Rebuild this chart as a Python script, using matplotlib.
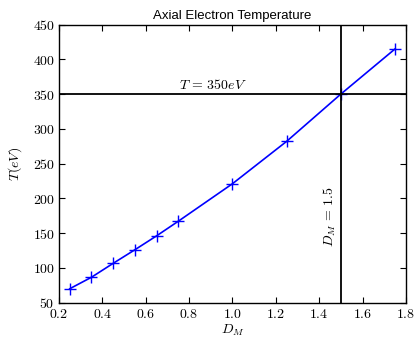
import matplotlib
matplotlib.use('Agg')
import matplotlib.pyplot as plt
from matplotlib.ticker import FuncFormatter

plt.rcParams['mathtext.fontset'] = 'cm'

# data
d_m = [0.25, 0.35, 0.45, 0.55, 0.65, 0.75, 1.0, 1.25, 1.5, 1.75]
temp = [70, 86.5, 106.5, 126, 146, 167, 221, 282, 350, 415]
t_ref = 350
d_ref = 1.5
x_ticks = [0.2, 0.4, 0.6, 0.8, 1.0, 1.2, 1.4, 1.6, 1.8]
y_ticks = [50, 100, 150, 200, 250, 300, 350, 400, 450]

fig = plt.figure(figsize=(4.15, 3.37), dpi=100)
ax = fig.add_axes([0.142, 0.102, 0.836, 0.825])

ax.plot(d_m, temp, color='blue', linewidth=1.2, marker='+', markersize=8,
        markeredgewidth=1.0)
ax.axhline(t_ref, color='black', linewidth=1.3)
ax.axvline(d_ref, color='black', linewidth=1.3)

ax.text(0.91, t_ref + 3, r'$T\,=\,350eV$', ha='center', va='bottom', fontsize=10)
ax.text(d_ref - 0.015, 174, r'$D_M\,=\,1.5$', rotation=90, ha='right',
        va='center', fontsize=10)

ax.set_xlim(0.2, 1.8)
ax.set_ylim(50, 450)
ax.set_xticks(x_ticks)
ax.set_yticks(y_ticks)
ax.xaxis.set_major_formatter(FuncFormatter(lambda v, p: f'${v:.1f}$'))
ax.yaxis.set_major_formatter(FuncFormatter(lambda v, p: f'${v:.0f}$'))
ax.tick_params(direction='in', length=4.5, width=0.8, top=True, right=True,
               labelsize=10, pad=3)
for s in ax.spines.values():
    s.set_linewidth(1.0)

ax.set_xlabel(r'$D_M$', fontsize=10, labelpad=1)
ax.set_ylabel(r'$T(eV)$', fontsize=10, labelpad=6)
ax.set_title('Axial Electron Temperature', fontsize=9.5, family='Liberation Sans',
             pad=4)

fig.savefig('out.png', dpi=100)
